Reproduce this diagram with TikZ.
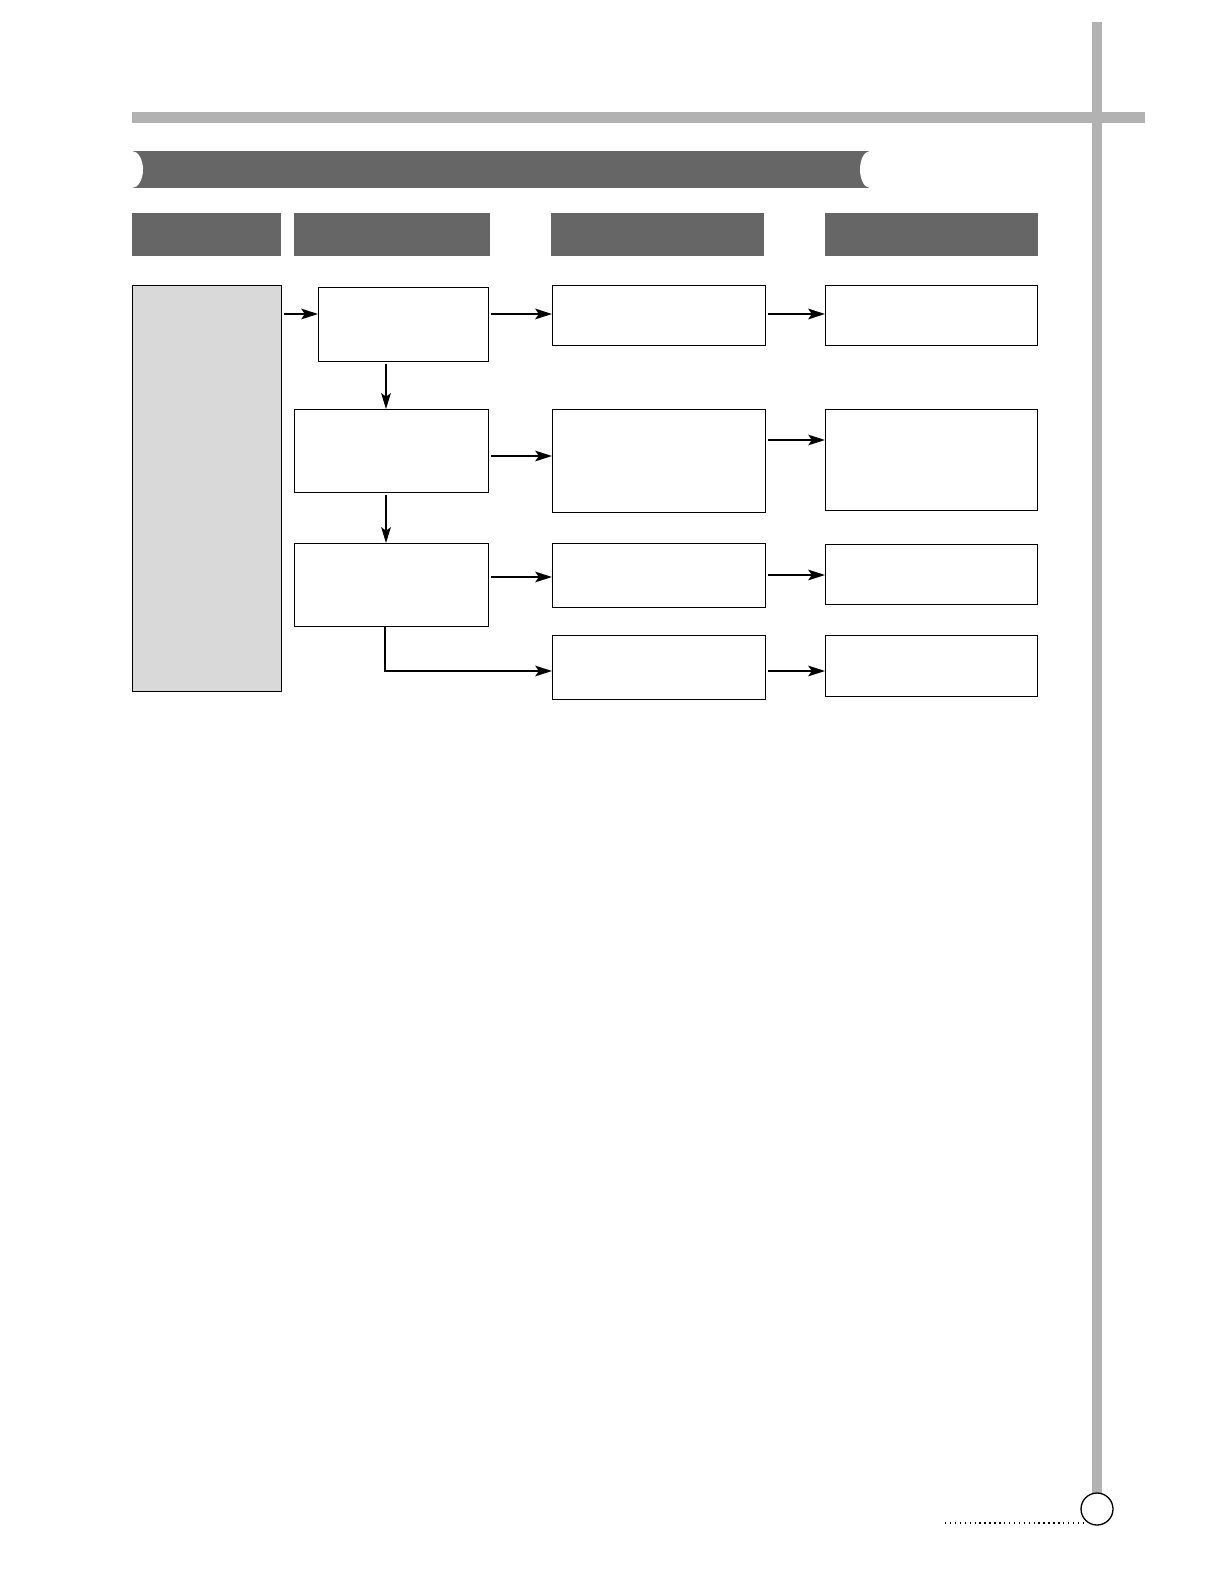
\documentclass[tikz,border=0pt]{standalone}
\usepackage{tikz}
\usetikzlibrary{calc}
\usetikzlibrary{arrows.meta}
\definecolor{bargray}{HTML}{B2B2B2}
\definecolor{headgray}{HTML}{666666}
\definecolor{boxgray}{HTML}{D9D9D9}

\begin{document}
\begin{tikzpicture}[x=0.02cm,y=-0.02cm,
  box/.style={draw=black,line width=0.75pt,inner sep=0pt,anchor=north west,fill=white},
  head/.style={fill=headgray,inner sep=0pt,anchor=north west,minimum height=0.86cm},
  harrow/.style={line width=1.4pt,-{Stealth[length=9.5pt,width=6pt,inset=2pt]},shorten <=0.04cm},
  varrow/.style={line width=0.7pt,-{Stealth[length=9pt,width=5.5pt,inset=2pt]},shorten <=0.04cm}]

\useasboundingbox (0,0) rectangle (1224,1584);

\fill[bargray] (132,112) rectangle (1145,123);
\fill[bargray] (1092,22) rectangle (1102,1493);

\fill[headgray] (132,151) rectangle (870,188);
\fill[white] (132,169.5) ellipse[x radius=11,y radius=18.5];
\fill[white] (870,169.5) ellipse[x radius=10,y radius=18.5];

\node[head,minimum width=2.98cm] (h1) at (132,213) {};
\node[head,minimum width=3.92cm] (h2) at (294,213) {};
\node[head,minimum width=4.26cm] (h3) at (551,213) {};
\node[head,minimum width=4.26cm] (h4) at (825,213) {};

\node[box,fill=boxgray,minimum width=2.98cm,minimum height=8.12cm] (L) at (132,285) {};

\node[box,minimum width=3.4cm,minimum height=1.48cm] (A) at (318,287) {};
\node[box,minimum width=3.88cm,minimum height=1.66cm] (B) at (294,409) {};
\node[box,minimum width=3.88cm,minimum height=1.66cm] (C) at (294,543) {};

\node[box,minimum width=4.26cm,minimum height=1.2cm] (D1) at (552,285) {};
\node[box,minimum width=4.26cm,minimum height=2.06cm] (D2) at (552,409) {};
\node[box,minimum width=4.26cm,minimum height=1.28cm] (D3) at (552,543) {};
\node[box,minimum width=4.26cm,minimum height=1.28cm] (D4) at (552,635) {};

\node[box,minimum width=4.24cm,minimum height=1.2cm] (E1) at (825,285) {};
\node[box,minimum width=4.24cm,minimum height=2.02cm] (E2) at (825,409) {};
\node[box,minimum width=4.24cm,minimum height=1.2cm] (E3) at (825,544) {};
\node[box,minimum width=4.24cm,minimum height=1.22cm] (E4) at (825,635) {};

\coordinate (r1) at (0,314);
\coordinate (r2) at (0,456);
\coordinate (r3) at (0,440);
\coordinate (r4) at (0,577);
\coordinate (r5) at (0,575);
\coordinate (r6) at (0,671);
\coordinate (v) at (386,0);
\coordinate (w) at (385,0);

\draw[harrow] (L.east |- r1) -- (A.west |- r1);
\draw[harrow] (A.east |- r1) -- (D1.west |- r1);
\draw[harrow] (D1.east |- r1) -- (E1.west |- r1);

\draw[varrow] (A.south -| v) -- (B.north -| v);
\draw[varrow] (B.south -| v) -- (C.north -| v);

\draw[harrow] (B.east |- r2) -- (D2.west |- r2);
\draw[harrow] (D2.east |- r3) -- (E2.west |- r3);
\draw[harrow] (C.east |- r4) -- (D3.west |- r4);
\draw[harrow] (D3.east |- r5) -- (E3.west |- r5);
\draw[harrow,shorten <=0pt] (C.south -| w) |- (D4.west |- r6);
\draw[harrow] (D4.east |- r6) -- (E4.west |- r6);

\node[draw=black,line width=0.75pt,circle,minimum size=0.64cm,inner sep=0pt,fill=white] (pg) at (1097,1509) {};
\draw[dotted,line width=0.8pt] (945,1523) -- (pg.south west |- 0,1523);

\end{tikzpicture}
\end{document}
